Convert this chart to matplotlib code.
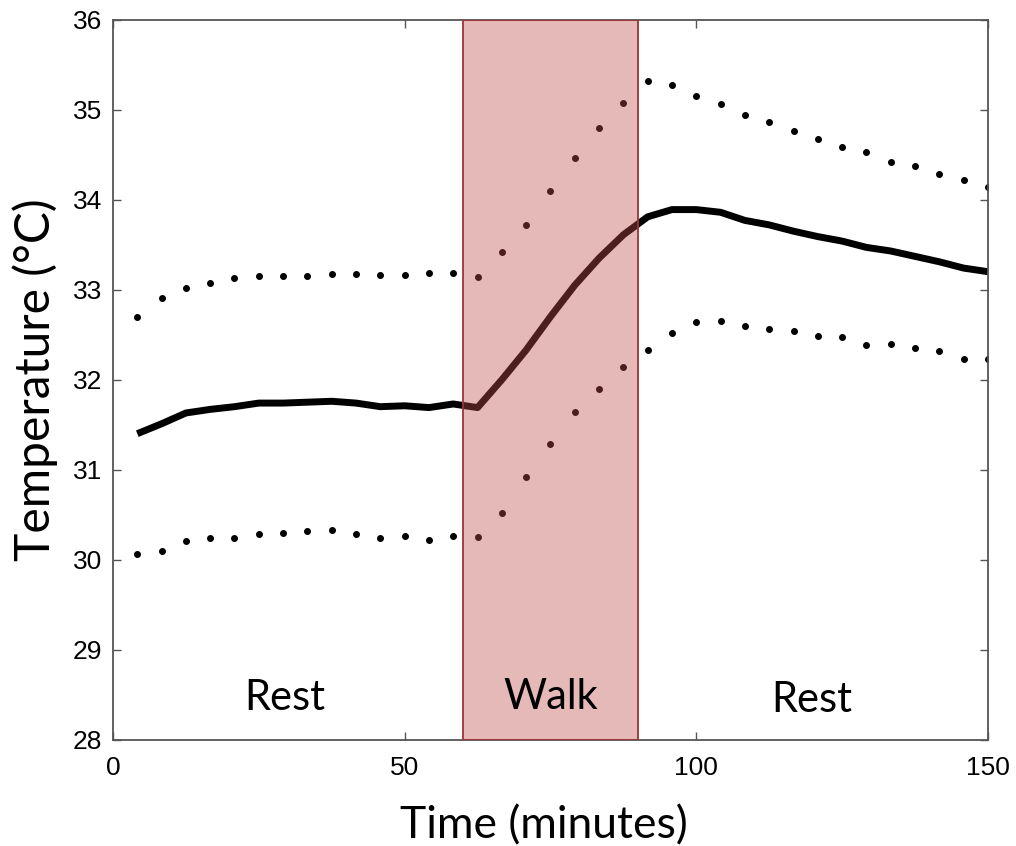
import numpy as np
import matplotlib
matplotlib.use('Agg')
import matplotlib.pyplot as plt

# sample times (minutes)
time_min = [4.17, 8.33, 12.5, 16.67, 20.83, 25.0, 29.17, 33.33, 37.5, 41.67,
            45.83, 50.0, 54.17, 58.33, 62.5, 66.67, 70.83, 75.0, 79.17, 83.33,
            87.5, 91.67, 95.83, 100.0, 104.17, 108.33, 112.5, 116.67, 120.83,
            125.0, 129.17, 133.33, 137.5, 141.67, 145.83, 150.0]

# mean temperature and upper / lower bounds (deg C)
temp_mean = [31.40, 31.51, 31.63, 31.67, 31.70, 31.74, 31.74, 31.75, 31.76, 31.74,
             31.70, 31.71, 31.69, 31.73, 31.69, 32.00, 32.33, 32.70, 33.05, 33.35,
             33.61, 33.81, 33.89, 33.89, 33.86, 33.77, 33.72, 33.65, 33.59, 33.54,
             33.47, 33.43, 33.37, 33.31, 33.24, 33.20]
temp_upper = [32.70, 32.91, 33.02, 33.07, 33.13, 33.15, 33.15, 33.15, 33.17, 33.17,
              33.16, 33.16, 33.18, 33.19, 33.14, 33.42, 33.72, 34.10, 34.46, 34.80,
              35.07, 35.32, 35.28, 35.15, 35.06, 34.94, 34.86, 34.76, 34.68, 34.59,
              34.53, 34.42, 34.37, 34.29, 34.22, 34.14]
temp_lower = [30.06, 30.10, 30.21, 30.24, 30.24, 30.29, 30.30, 30.32, 30.33, 30.29,
              30.24, 30.26, 30.22, 30.26, 30.25, 30.52, 30.92, 31.29, 31.64, 31.90,
              32.14, 32.33, 32.52, 32.64, 32.65, 32.60, 32.56, 32.54, 32.49, 32.47,
              32.38, 32.40, 32.35, 32.32, 32.23, 32.23]

walk_start, walk_end = 60, 90
phase_labels = ['Rest', 'Walk', 'Rest']
phase_x = [29.5, 75, 119.8]
phase_y = [28.46, 28.47, 28.44]

x_ticks = [0, 50, 100, 150]
y_ticks = [28, 29, 30, 31, 32, 33, 34, 35, 36]

label_font = 'Lato'
tick_font = 'Liberation Sans'

fig = plt.figure(figsize=(10.16, 8.46), dpi=100)
ax = fig.add_axes([0.1112, 0.1257, 0.8612, 0.851])

ax.plot(time_min, temp_mean, color='black', lw=5.0, solid_capstyle='butt', zorder=2)
ax.plot(time_min, temp_upper, ls='none', marker='o', ms=4.0, color='black', zorder=2)
ax.plot(time_min, temp_lower, ls='none', marker='o', ms=4.0, color='black', zorder=2)

# shaded walking period, drawn over the data
ax.axvspan(walk_start, walk_end, facecolor='#c0504d', alpha=0.4, lw=0, zorder=3)
ax.axvspan(walk_start, walk_end, fill=False, edgecolor='#9e3432', lw=1.3, zorder=4)

for lab, xx, yy in zip(phase_labels, phase_x, phase_y):
    ax.text(xx, yy, lab, ha='center', va='center', fontsize=30,
            family=label_font, zorder=5)

ax.set_xlim(0, 150)
ax.set_ylim(28, 36)
ax.set_xticks(x_ticks)
ax.set_yticks(y_ticks)
ax.tick_params(direction='in', top=True, right=True, length=6, width=1.0,
               color='#555555', labelsize=19)
ax.tick_params(axis='x', pad=12)
ax.tick_params(axis='y', pad=8)
for lab in ax.get_xticklabels() + ax.get_yticklabels():
    lab.set_family(tick_font)
for sp in ax.spines.values():
    sp.set_color('#555555')
    sp.set_linewidth(1.3)

ax.set_xlabel('Time (minutes)', fontsize=32, family=label_font, labelpad=18)
ax.xaxis.label.set_x(0.492)
ax.set_ylabel('Temperature (°C)', fontsize=34.5, family=label_font, labelpad=10)

fig.savefig('out.png', dpi=100)
